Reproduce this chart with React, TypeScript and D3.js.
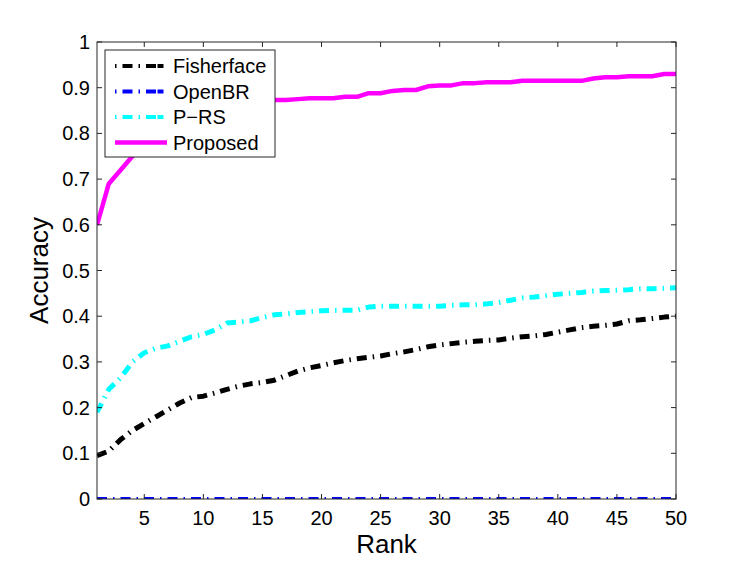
import React from "react";
import * as d3 from "d3";

const ranks: number[] = d3.range(1, 51);

const fisherface: number[] = [
  0.095, 0.105, 0.13, 0.15, 0.165, 0.18, 0.195, 0.21, 0.222, 0.225,
  0.232, 0.24, 0.247, 0.252, 0.255, 0.26, 0.27, 0.28, 0.287, 0.292,
  0.298, 0.303, 0.307, 0.31, 0.313, 0.318, 0.322, 0.327, 0.333, 0.337,
  0.34, 0.343, 0.345, 0.347, 0.348, 0.352, 0.355, 0.357, 0.36, 0.365,
  0.37, 0.375, 0.378, 0.38, 0.383, 0.39, 0.392, 0.395, 0.398, 0.4,
];

const openbr: number[] = ranks.map(() => 0);

const prs: number[] = [
  0.19, 0.24, 0.265, 0.3, 0.32, 0.33, 0.335, 0.345, 0.355, 0.36,
  0.37, 0.385, 0.387, 0.39, 0.397, 0.403, 0.405, 0.408, 0.41, 0.412,
  0.413, 0.413, 0.413, 0.42, 0.422, 0.422, 0.422, 0.422, 0.422, 0.422,
  0.424, 0.425, 0.425, 0.427, 0.43, 0.435, 0.44, 0.442, 0.445, 0.448,
  0.45, 0.452, 0.455, 0.456, 0.457, 0.458, 0.46, 0.46, 0.461, 0.462,
];

const proposed: number[] = [
  0.6, 0.69, 0.72, 0.75, 0.77, 0.79, 0.81, 0.82, 0.83, 0.84,
  0.85, 0.855, 0.86, 0.865, 0.87, 0.873, 0.873, 0.875, 0.877, 0.877,
  0.877, 0.88, 0.88, 0.888, 0.888, 0.893, 0.895, 0.895, 0.903, 0.905,
  0.905, 0.91, 0.91, 0.912, 0.912, 0.912, 0.915, 0.915, 0.915, 0.915,
  0.915, 0.915, 0.92, 0.923, 0.923, 0.925, 0.925, 0.925, 0.93, 0.93,
];

const xTicks: number[] = [5, 10, 15, 20, 25, 30, 35, 40, 45, 50];
const yTicks: number[] = [0, 0.1, 0.2, 0.3, 0.4, 0.5, 0.6, 0.7, 0.8, 0.9, 1];

const seriesNames: string[] = ["Fisherface", "OpenBR", "P\u2212RS", "Proposed"];
const seriesColors: string[] = ["#000000", "#0000ff", "#00ffff", "#ff00ff"];
const seriesDash: string[] = ["10,6,1.5,6", "10,6,1.5,6", "10,6,1.5,6", "none"];
const seriesWidth: number[] = [5, 4, 5, 4.5];
const seriesData: number[][] = [fisherface, openbr, prs, proposed];

const FONT = "'Liberation Sans', Arial, Helvetica, sans-serif";

export default function App() {
  const W = 747;
  const H = 561;
  const L = 97, R = 676, T = 42, B = 499;
  const x = d3.scaleLinear().domain([1, 50]).range([L, R]);
  const y = d3.scaleLinear().domain([0, 1]).range([B, T]);
  const line = d3
    .line<number>()
    .x((_, i) => x(ranks[i]))
    .y((d) => y(d));
  const tickLen = 5;

  return (
    <svg
      width={W}
      height={H}
      style={{ position: "absolute", left: 0, top: 0, background: "#fff" }}
      fontFamily={FONT}
    >
      <rect x={0} y={0} width={W} height={H} fill="#fff" />
      <defs>
        <clipPath id="plotclip">
          <rect x={L} y={T - 3} width={R - L} height={B - T + 3} />
        </clipPath>
      </defs>
      <g clipPath="url(#plotclip)">
        {seriesData.map((s, i) => (
          <path
            key={i}
            d={line(s) || ""}
            fill="none"
            stroke={seriesColors[i]}
            strokeWidth={seriesWidth[i]}
            strokeDasharray={seriesDash[i] === "none" ? undefined : seriesDash[i]}
            strokeLinejoin="round"
          />
        ))}
      </g>
      <rect x={L} y={T} width={R - L} height={B - T} fill="none" stroke="#262626" strokeWidth={1} />
      {xTicks.map((t) => (
        <g key={"x" + t}>
          <line x1={x(t)} x2={x(t)} y1={B} y2={B - tickLen} stroke="#262626" />
          <line x1={x(t)} x2={x(t)} y1={T} y2={T + tickLen} stroke="#262626" />
          <text x={x(t)} y={525} fontSize={20} textAnchor="middle" fill="#000">
            {t}
          </text>
        </g>
      ))}
      {yTicks.map((t) => (
        <g key={"y" + t}>
          <line x1={L} x2={L + tickLen} y1={y(t)} y2={y(t)} stroke="#262626" />
          <line x1={R} x2={R - tickLen} y1={y(t)} y2={y(t)} stroke="#262626" />
          <text x={90} y={y(t) + 7} fontSize={20} textAnchor="end" fill="#000">
            {String(t)}
          </text>
        </g>
      ))}
      <text x={(L + R) / 2} y={553} fontSize={26} textAnchor="middle" fill="#000">
        Rank
      </text>
      <text
        transform={`translate(48,${(T + B) / 2}) rotate(-90)`}
        fontSize={26}
        textAnchor="middle"
        fill="#000"
      >
        Accuracy
      </text>
      <rect x={105} y={50} width={170} height={107} fill="#fff" stroke="#262626" strokeWidth={1} />
      {seriesNames.map((n, i) => {
        const ly = 66 + i * 25.5;
        return (
          <g key={n}>
            <line
              x1={115}
              x2={167}
              y1={ly}
              y2={ly}
              stroke={seriesColors[i]}
              strokeWidth={seriesDash[i] === "none" ? 4.5 : 4}
              strokeDasharray={seriesDash[i] === "none" ? undefined : "1.5,6,10,6,1.5,6,10"}
            />
            <text x={173} y={ly + 7} fontSize={20} fill="#000">
              {n}
            </text>
          </g>
        );
      })}
    </svg>
  );
}
